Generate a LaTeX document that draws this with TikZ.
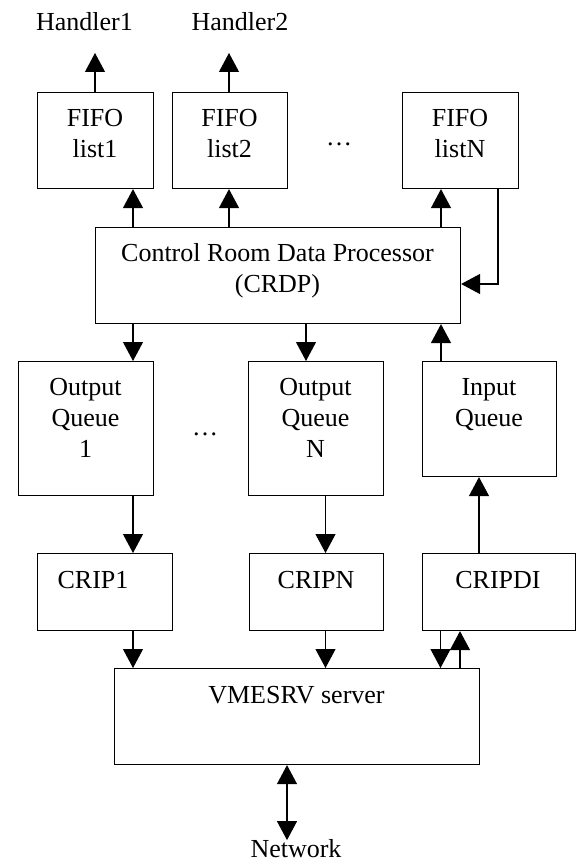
\documentclass[tikz,border=0pt]{standalone}
\usepackage{fontspec}
\setmainfont{Liberation Serif}
\usetikzlibrary{arrows.meta,calc}
\begin{document}
\begin{tikzpicture}[x=1pt,y=-1pt,
  box/.style={draw,line width=1.1pt,rectangle,inner sep=0pt,anchor=north west},
  txt/.style={font=\fontsize{26}{31}\selectfont,align=center,inner sep=0pt,anchor=base},
  arr/.style={line width=1.1pt,-{Triangle[length=19pt,width=20pt]}},
  darr/.style={line width=1.1pt,{Triangle[length=19pt,width=20pt]}-{Triangle[length=19pt,width=20pt]}}]
\useasboundingbox (0,0) rectangle (576,861);
% boxes
\node[box,minimum width=116pt,minimum height=96pt] (fifo1) at (37,92) {};
\node[box,minimum width=115pt,minimum height=96pt] (fifo2) at (172,92) {};
\node[box,minimum width=116pt,minimum height=96pt] (fifoN) at (402,92) {};
\node[box,minimum width=365pt,minimum height=96pt] (crdp) at (95,227) {};
\node[box,minimum width=135pt,minimum height=134pt] (oq1) at (18,361) {};
\node[box,minimum width=135pt,minimum height=134pt] (oqN) at (248,361) {};
\node[box,minimum width=134pt,minimum height=115pt] (iq) at (422,361) {};
\node[box,minimum width=135pt,minimum height=77pt] (crip1) at (37,553) {};
\node[box,minimum width=134pt,minimum height=77pt] (cripN) at (249,553) {};
\node[box,minimum width=153pt,minimum height=77pt] (cripdi) at (422,553) {};
\node[box,minimum width=365pt,minimum height=96pt] (vme) at (114,668) {};
% texts (anchor=base is the baseline of the last line)
\node[txt] (h1) at (84.5,31) {Handler1};
\node[txt] (h2) at (240,31) {Handler2};
\node[txt] (t1) at (95,158) {FIFO\\list1};
\node[txt] (t2) at (229.5,158) {FIFO\\list2};
\node[txt] (tN) at (460,158) {FIFO\\listN};
\node[txt] (dots1) at (339,146) {…};
\node[txt] (tcrdp) at (277.5,292.5) {Control Room Data Processor\\(CRDP)};
\node[txt] (toq1) at (85.5,457.5) {Output\\Queue\\1};
\node[txt] (dots2) at (205,435) {…};
\node[txt] (toqN) at (315.5,457.5) {Output\\Queue\\N};
\node[txt] (tiq) at (489,426.5) {Input\\Queue};
\node[txt] (tc1) at (93,588) {CRIP1};
\node[txt] (tcN) at (316,588) {CRIPN};
\node[txt] (tcdi) at (498,588) {CRIPDI};
\node[txt] (tvme) at (296.5,703) {VMESRV server};
\node[txt] (net) at (296,857) {Network};
% connectors
\draw[arr] ([xshift=58pt]fifo1.north west) -- ([xshift=58pt,yshift=39pt]fifo1.north west);
\draw[arr] ([xshift=57pt]fifo2.north west) -- ([xshift=57pt,yshift=39pt]fifo2.north west);
\draw[arr] ([xshift=38pt]crdp.north west) -- ([xshift=96pt]fifo1.south west);
\draw[arr] ([xshift=134pt]crdp.north west) -- ([xshift=57pt]fifo2.south west);
\draw[arr] ([xshift=346pt]crdp.north west) -- ([xshift=39pt]fifoN.south west);
\draw[arr] ([xshift=96pt]fifoN.south west) |- ([yshift=-57pt]crdp.north east);
\draw[arr] ([xshift=38pt]crdp.south west) -- ([xshift=115pt]oq1.north west);
\draw[arr] ([xshift=211pt]crdp.south west) -- ([xshift=58pt]oqN.north west);
\draw[arr] ([xshift=19pt]iq.north west) -- ([xshift=346pt]crdp.south west);
\draw[arr] ([xshift=115pt]oq1.south west) -- ([xshift=96pt]crip1.north west);
\draw[arr] ([xshift=77.5pt]oqN.south west) -- ([xshift=76.5pt]cripN.north west);
\draw[arr] ([xshift=57pt]cripdi.north west) -- ([xshift=57pt]iq.south west);
\draw[arr] ([xshift=96pt]crip1.south west) -- ([xshift=19pt]vme.north west);
\draw[arr] ([xshift=76.5pt]cripN.south west) -- ([xshift=211.5pt]vme.north west);
\draw[arr] ([xshift=18.5pt]cripdi.south west) -- ([xshift=326.5pt]vme.north west);
\draw[arr] ([xshift=346pt]vme.north west) -- ([xshift=38pt]cripdi.south west);
\draw[darr] ([xshift=173pt]vme.south west) -- ([xshift=173pt,yshift=-75pt]vme.south west);
\end{tikzpicture}
\end{document}
